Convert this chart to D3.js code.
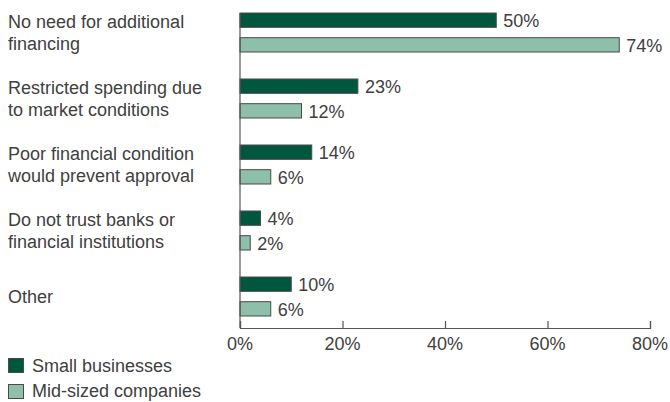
<!DOCTYPE html>
<html>
<head>
<meta charset="utf-8">
<script src="https://cdn.jsdelivr.net/npm/d3@7"></script>
<style>
  html, body { margin: 0; padding: 0; background: #fff; }
  svg text { font-family: "Liberation Sans", Arial, sans-serif; fill: #404040; }
</style>
</head>
<body>
<svg id="chart" width="670" height="402"></svg>
<script>
// Reasons for not seeking financing, by company size
const categories = [
  ["No need for additional", "financing"],
  ["Restricted spending due", "to market conditions"],
  ["Poor financial condition", "would prevent approval"],
  ["Do not trust banks or", "financial institutions"],
  ["Other"]
];
const seriesNames = ["Small businesses", "Mid-sized companies"];
const smallBusinesses = [50, 23, 14, 4, 10];
const midSizedCompanies = [74, 12, 6, 2, 6];
const tickValues = [0, 20, 40, 60, 80];
const colors = ["#00573d", "#8dbfab"];

const svg = d3.select("#chart");
const plotLeft = 240, plotRight = 650, plotTop = 13, axisY = 328;
const fontSize = 18;

const x = d3.scaleLinear().domain([0, 80]).range([plotLeft, plotRight]);
const y = d3.scaleBand().domain(d3.range(categories.length)).range([plotTop, plotTop + 66 * 5]).paddingInner(0).paddingOuter(0);
const inner = d3.scaleBand().domain([0, 1]).range([0, 39]).paddingInner(0.42).paddingOuter(0);

const series = [smallBusinesses, midSizedCompanies];

// bars
series.forEach((vals, si) => {
  const g = svg.append("g");
  g.selectAll("rect").data(vals).join("rect")
    .attr("x", x(0))
    .attr("y", (d, i) => y(i) + inner(si))
    .attr("width", d => x(d) - x(0))
    .attr("height", inner.bandwidth())
    .attr("fill", colors[si])
    .attr("stroke", "#4a4a4a")
    .attr("stroke-width", 1);
  g.selectAll("text").data(vals).join("text")
    .attr("x", d => x(d) + 7)
    .attr("y", (d, i) => y(i) + inner(si) + inner.bandwidth() / 2)
    .attr("dy", "0.38em")
    .attr("font-size", fontSize)
    .text(d => d + "%");
});

// category labels
categories.forEach((lines, i) => {
  const cy = y(i) + 19.5;
  const t = svg.append("text").attr("x", 8).attr("font-size", fontSize);
  lines.forEach((ln, j) => {
    t.append("tspan")
      .attr("x", 8)
      .attr("y", cy + (j - (lines.length - 1) / 2) * 22)
      .attr("dy", "0.36em")
      .text(ln);
  });
});

// vertical baseline
svg.append("line")
  .attr("x1", x(0)).attr("x2", x(0))
  .attr("y1", plotTop).attr("y2", axisY)
  .attr("stroke", "#555").attr("stroke-width", 1.2);

// x axis
const axis = svg.append("g")
  .attr("transform", `translate(0,${axisY})`)
  .call(d3.axisTop(x).tickValues(tickValues).tickSize(7).tickFormat(""));
axis.select(".domain").attr("stroke", "#555").attr("stroke-width", 1.2);
axis.selectAll(".tick line").attr("stroke", "#555").attr("stroke-width", 1.2);

svg.append("g").selectAll("text").data(tickValues).join("text")
  .attr("x", d => x(d))
  .attr("y", axisY + 22)
  .attr("text-anchor", "middle")
  .attr("font-size", fontSize)
  .text(d => d + "%");

// legend
seriesNames.forEach((name, i) => {
  const ly = 358 + i * 26;
  svg.append("rect")
    .attr("x", 8.5).attr("y", ly + 0.5)
    .attr("width", 15).attr("height", 14)
    .attr("fill", colors[i])
    .attr("stroke", "#4a4a4a");
  svg.append("text")
    .attr("x", 32).attr("y", ly + 14 - i)
    .attr("font-size", fontSize)
    .text(name);
});
</script>
</body>
</html>
